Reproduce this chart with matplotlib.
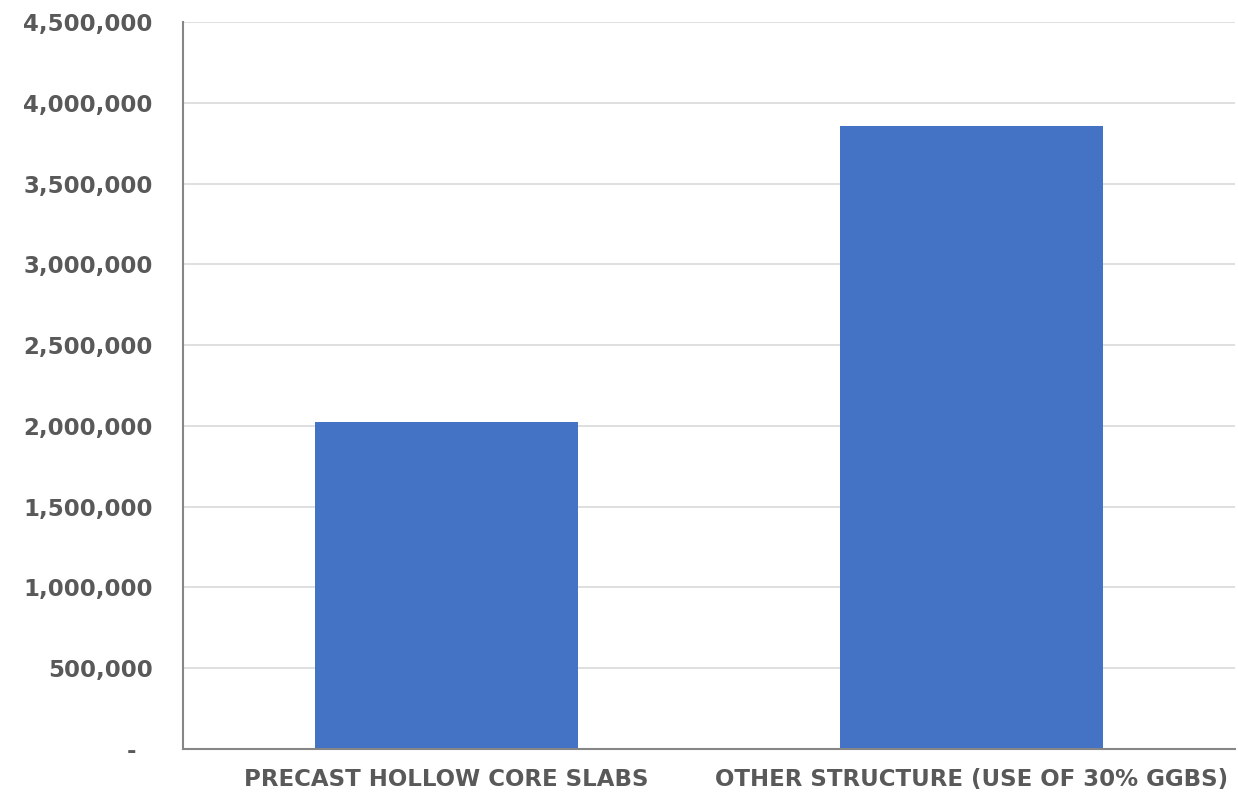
import matplotlib
matplotlib.use("Agg")
import matplotlib.pyplot as plt
from matplotlib.ticker import FuncFormatter

categories = ["PRECAST HOLLOW CORE SLABS", "OTHER STRUCTURE (USE OF 30% GGBS)"]
values = [2022000, 3856000]
y_ticks = [0, 500000, 1000000, 1500000, 2000000, 2500000, 3000000, 3500000, 4000000, 4500000]

TEXT_COLOR = "#595959"
BAR_COLOR = "#4472C4"
GRID_COLOR = "#D9D9D9"
AXIS_COLOR = "#868686"

plt.rcParams["font.family"] = ["DejaVu Sans"]

fig = plt.figure(figsize=(12.38, 7.94), dpi=100)
ax = fig.add_axes([183 / 1238, 45 / 794, 1052 / 1238, 727 / 794])

x = list(range(len(categories)))
ax.bar(x, values, width=0.5, color=BAR_COLOR, zorder=2)

ax.set_xlim(-0.5, len(categories) - 0.5)
ax.set_ylim(0, 4500000)
ax.set_yticks(y_ticks)
# zero shown as an accounting-style dash, padded off the axis
ax.yaxis.set_major_formatter(FuncFormatter(lambda v, _: "-  " if v == 0 else f"{int(v):,}"))
ax.set_xticks(x)
ax.set_xticklabels(categories)

ax.grid(axis="y", color=GRID_COLOR, linewidth=1.2, zorder=0)
ax.set_axisbelow(True)

for side in ("top", "right"):
    ax.spines[side].set_visible(False)
for side in ("left", "bottom"):
    ax.spines[side].set_color(AXIS_COLOR)
    ax.spines[side].set_linewidth(1.5)

ax.tick_params(axis="y", length=0, pad=22, labelsize=16.5, labelcolor=TEXT_COLOR)
ax.tick_params(axis="x", length=0, pad=14, labelsize=16.5, labelcolor=TEXT_COLOR)
for lbl in ax.get_yticklabels() + ax.get_xticklabels():
    lbl.set_fontweight("bold")

fig.savefig("out.png", dpi=100, facecolor="white")
